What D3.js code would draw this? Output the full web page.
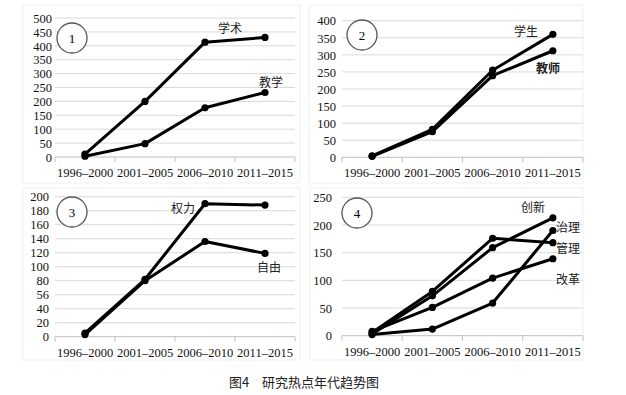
<!DOCTYPE html>
<html>
<head>
<meta charset="utf-8">
<script src="https://cdn.jsdelivr.net/npm/d3@7"></script>
<style>
  body { margin: 0; background: #fff; }
  svg { display: block; }
</style>
</head>
<body>
<svg id="chart" width="626" height="395"></svg>
<script>
// categories shared by all four panels
const periods = ['1996–2000', '2001–2005', '2006–2010', '2011–2015'];

// panel 1
const xueshu = [10, 200, 413, 430];
const jiaoxue = [3, 48, 177, 232];
// panel 2
const xuesheng = [4, 82, 255, 360];
const jiaoshi = [3, 75, 239, 312];
// panel 3
const quanli = [5, 82, 190, 188];
const ziyou = [3, 80, 136, 119];
const p3TickLabels = ['0', '20', '40', '56', '80', '100', '120', '140', '160', '180', '200'];
// panel 4
const chuangxin = [3, 72, 159, 213];
const guanli = [6, 80, 176, 168];
const zhili = [2, 12, 59, 190];
const gaige = [8, 51, 104, 139];

const SERIF = '"Liberation Serif", "Times New Roman", serif';
const CJK = '"Noto Sans CJK SC", sans-serif';

const svg = d3.select('#chart');

const panels = [
  { num: '1', x0: 55, x1: 295, y0: 18, y1: 157, max: 500, step: 50, lx: 52,
    frame: [23, 5, 300, 183], badge: [72, 38],
    series: [
      { v: xueshu, name: '学术', at: [230, 29] },
      { v: jiaoxue, name: '教学', at: [271, 83] }
    ] },
  { num: '2', x0: 342, x1: 583, y0: 20.7, y1: 157.3, max: 400, step: 50, lx: 336,
    frame: [309, 5, 583, 183], badge: [362, 35],
    series: [
      { v: xuesheng, name: '学生', at: [526, 32] },
      { v: jiaoshi, name: '教师', at: [548, 69], bold: true }
    ] },
  { num: '3', x0: 55, x1: 295, y0: 196.7, y1: 336.7, max: 200, step: 20, lx: 49,
    frame: [23, 188, 300, 360], badge: [72, 212], labels: p3TickLabels,
    series: [
      { v: quanli, name: '权力', at: [183, 209] },
      { v: ziyou, name: '自由', at: [269, 268] }
    ] },
  { num: '4', x0: 342, x1: 583, y0: 197.3, y1: 335.7, max: 250, step: 50, lx: 332,
    frame: [310, 188, 583, 360], badge: [357, 213],
    series: [
      { v: chuangxin, name: '创新', at: [533, 208] },
      { v: guanli, name: '管理', at: [568, 249] },
      { v: zhili, name: '治理', at: [568, 228] },
      { v: gaige, name: '改革', at: [568, 280] }
    ] }
];

panels.forEach(p => {
  const g = svg.append('g');

  // faint chart area frame
  g.append('rect')
    .attr('x', p.frame[0]).attr('y', p.frame[1])
    .attr('width', p.frame[2] - p.frame[0]).attr('height', p.frame[3] - p.frame[1])
    .attr('fill', 'none').attr('stroke', '#f0f0f0');

  const x = d3.scaleBand().domain(periods).range([p.x0, p.x1]);
  const y = d3.scaleLinear().domain([0, p.max]).range([p.y1, p.y0]);
  const ticks = d3.range(0, p.max + 1, p.step);

  // gridlines
  g.append('g')
    .selectAll('line')
    .data(ticks.slice(1))
    .enter()
    .append('line')
    .attr('x1', p.x0).attr('x2', p.x1)
    .attr('y1', d => y(d)).attr('y2', d => y(d))
    .attr('stroke', '#d9d9d9');

  // y axis labels
  const yAxis = d3.axisLeft(y).tickValues(ticks).tickSize(0).tickPadding(0);
  if (p.labels) yAxis.tickFormat((d, i) => p.labels[i]);
  g.append('g')
    .attr('transform', `translate(${p.lx},0)`)
    .call(yAxis)
    .call(a => a.select('.domain').remove())
    .selectAll('text')
    .attr('dy', '0.34em')
    .style('font-family', SERIF).style('font-size', '12.5px').style('fill', '#111');

  // x axis with ticks at band edges
  const xa = g.append('g').attr('transform', `translate(0,${p.y1})`);
  xa.append('line').attr('x1', p.x0).attr('x2', p.x1).attr('stroke', '#bfbfbf');
  xa.selectAll('.edge')
    .data(periods.map(c => x(c)).concat([p.x1]))
    .enter()
    .append('line')
    .attr('x1', d => d).attr('x2', d => d)
    .attr('y1', 0).attr('y2', 5)
    .attr('stroke', '#bfbfbf');
  xa.call(d3.axisBottom(x).tickSize(0))
    .call(a => a.select('.domain').remove())
    .selectAll('text')
    .attr('dy', '0.32em').attr('y', 16)
    .style('font-family', SERIF).style('font-size', '12.5px').style('fill', '#111');

  // series lines and markers
  const line = d3.line()
    .x((d, i) => x(periods[i]) + x.bandwidth() / 2)
    .y(d => y(d));

  p.series.forEach(s => {
    g.append('path')
      .datum(s.v)
      .attr('d', line)
      .attr('fill', 'none')
      .attr('stroke', '#000')
      .attr('stroke-width', 3)
      .attr('stroke-linejoin', 'round');
    g.selectAll(null)
      .data(s.v)
      .enter()
      .append('circle')
      .attr('cx', (d, i) => x(periods[i]) + x.bandwidth() / 2)
      .attr('cy', d => y(d))
      .attr('r', 3.6)
      .attr('fill', '#000');
    g.append('text')
      .attr('x', s.at[0]).attr('y', s.at[1])
      .attr('dy', '0.35em')
      .attr('text-anchor', 'middle')
      .style('font-family', CJK).style('font-size', '12px')
      .style('font-weight', s.bold ? 'bold' : 'normal')
      .style('fill', '#222')
      .text(s.name);
  });

  // numbered badge
  g.append('circle')
    .attr('cx', p.badge[0]).attr('cy', p.badge[1]).attr('r', 15)
    .attr('fill', '#fff').attr('stroke', '#555').attr('stroke-width', 1.3);
  g.append('text')
    .attr('x', p.badge[0]).attr('y', p.badge[1])
    .attr('dy', '0.35em').attr('text-anchor', 'middle')
    .style('font-family', SERIF).style('font-size', '13px')
    .text(p.num);
});

// caption
svg.append('text')
  .attr('x', 304).attr('y', 382)
  .attr('dy', '0.35em')
  .attr('text-anchor', 'middle')
  .style('font-family', CJK)
  .style('font-size', '13px')
  .style('fill', '#222')
  .text('图4　研究热点年代趋势图');
</script>
</body>
</html>
